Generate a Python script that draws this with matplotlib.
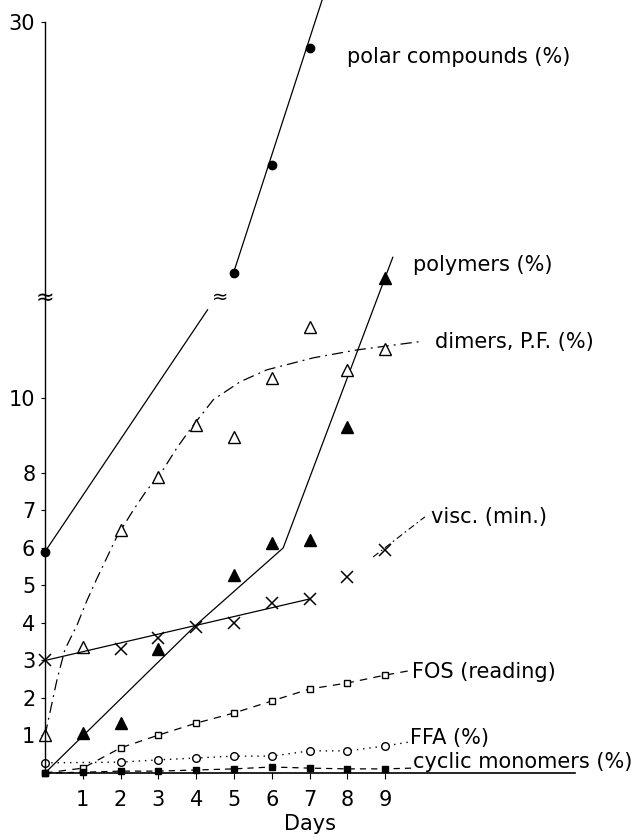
import matplotlib
matplotlib.use("Agg")
import matplotlib.pyplot as plt

plt.rcParams['font.family'] = ['DejaVu Sans']

# data (day of frying)
days = [0, 1, 2, 3, 4, 5, 6, 7, 8, 9]

# polar compounds (%), broken axis: day 0 below the break, days 5-7 above it
polar_lo_days = [0]
polar_lo = [5.9]
polar_hi_days = [5, 6, 7]
polar_hi = [23.3, 26.2, 29.3]
polar_fit_lo_days = [0, 4.3]
polar_fit_lo = [5.9, 12.35]
polar_fit_hi_days = [4.95, 7.35]
polar_fit_hi = [23.2, 30.65]

# polymers (%)
poly_days = [1, 2, 3, 5, 6, 7, 8, 9]
poly = [1.07, 1.33, 3.3, 5.28, 6.13, 6.21, 9.23, 13.2]
poly_fit_days = [0, 4, 6.3, 9.2]
poly_fit = [0, 3.95, 6.0, 13.75]

# dimers, P.F. (%)
dimer = [1.0, 3.36, 6.48, 7.9, 9.28, 8.96, 10.53, 11.89, 10.75, 11.31]
dimer_curve_days = [0, 0.32, 0.53, 0.85, 1.11, 1.38, 1.64, 1.9, 2.33, 2.7, 3.04,
                    3.49, 3.89, 4.45, 5.16, 5.87, 7.1, 8.25, 9.9]
dimer_curve = [1.0, 2.5, 3.3, 3.95, 4.6, 5.2, 5.75, 6.3, 7.0, 7.55, 7.95,
               8.67, 9.23, 9.95, 10.43, 10.75, 11.07, 11.28, 11.5]

# viscosity (min.)
visc = [3.0, None, 3.3, 3.6, 3.9, 4.0, 4.53, 4.64, 5.23, 5.95]
visc_fit_days = [0, 7]
visc_fit = [3.0, 4.64]
visc_lead_days = [8.68, 10.05]
visc_lead = [5.76, 6.83]

# FOS (reading)
fos = [0, 0.13, 0.67, 1.01, 1.33, 1.6, 1.92, 2.24, 2.4, 2.61]
# FFA (%)
ffa_days = [0, 2, 3, 4, 5, 6, 7, 8, 9]
ffa = [0.27, 0.29, 0.35, 0.4, 0.45, 0.45, 0.59, 0.59, 0.72]
# cyclic monomers (%)
cyc = [0, 0.02, 0.05, 0.05, 0.08, 0.11, 0.16, 0.13, 0.11, 0.11]

fig = plt.figure(figsize=(6.39, 8.4), dpi=100)
ax = fig.add_axes([45 / 639, 67 / 840, 530 / 639, 773 / 840])
axt = fig.add_axes([45 / 639, 543 / 840, 530 / 639, 297 / 840], sharex=ax)
axt.patch.set_alpha(0)

ax.set_xlim(0, 14.02)
ax.set_ylim(0, 20.61)
axt.set_ylim(22.67, 30.59)

k = dict(color='black', clip_on=False)

# polar compounds
ax.plot(polar_fit_lo_days, polar_fit_lo, lw=0.9, **k)
ax.plot(polar_lo_days, polar_lo, 'o', ms=6, **k)
axt.plot(polar_fit_hi_days, polar_fit_hi, lw=0.9, **k)
axt.plot(polar_hi_days, polar_hi, 'o', ms=6, **k)
ax.text(4.62, 12.68, '≈', fontsize=14, ha='center', va='center')

# polymers
ax.plot(poly_fit_days, poly_fit, lw=0.9, **k)
ax.plot(poly_days, poly, '^', ms=9, **k)

# dimers
ax.plot(dimer_curve_days, dimer_curve, lw=0.9, ls=(0, (9, 4, 1.5, 4)), **k)
ax.plot(days, dimer, '^', ms=9, mfc='white', mew=1.0, **k)

# viscosity
ax.plot(visc_fit_days, visc_fit, lw=0.9, **k)
ax.plot(visc_lead_days, visc_lead, lw=0.8, ls=(0, (6, 3, 1.5, 3)), **k)
vd = [d for d, v in zip(days, visc) if v is not None]
vv = [v for v in visc if v is not None]
ax.plot(vd, vv, 'x', ms=8, mew=1.1, **k)

# FOS
ax.plot(days + [9.6], fos + [2.72], lw=0.9, ls=(0, (6, 5)), **k)
ax.plot(days, fos, 's', ms=5, mfc='white', **k)

# FFA
ax.plot(ffa_days + [9.6], ffa + [0.82], lw=1.0, ls=(0, (1, 3.5)), **k)
ax.plot(ffa_days, ffa, 'o', ms=5.5, mfc='white', **k)

# cyclic monomers
ax.plot(days + [9.7], cyc + [0.13], lw=0.9, ls=(0, (5, 4)), **k)
ax.plot(days, cyc, 's', ms=5, **k)

# labels of the curves
fs = 15
ax.text(7.99, 19.09, 'polar compounds (%)', fontsize=fs, va='center')
ax.text(9.73, 13.55, 'polymers (%)', fontsize=fs, va='center')
ax.text(10.32, 11.49, 'dimers, P.F. (%)', fontsize=fs, va='center')
ax.text(10.21, 6.83, 'visc. (min.)', fontsize=fs, va='center')
ax.text(9.71, 2.69, 'FOS (reading)', fontsize=fs, va='center')
ax.text(9.65, 0.93, 'FFA (%)', fontsize=fs, va='center')
ax.text(9.73, 0.29, 'cyclic monomers (%)', fontsize=fs, va='center')

# axes styling
for s in ['top', 'right']:
    ax.spines[s].set_visible(False)
    axt.spines[s].set_visible(False)
axt.spines['bottom'].set_visible(False)
ax.spines['left'].set_bounds(0, 12.7)
axt.spines['left'].set_bounds(22.67, 30)
ax.spines['left'].set_linewidth(1.0)
axt.spines['left'].set_linewidth(1.0)
ax.spines['bottom'].set_linewidth(1.2)

ax.set_xticks(days[1:])
ax.set_yticks([1, 2, 3, 4, 5, 6, 7, 8, 10])
axt.set_yticks([30])
ax.tick_params(axis='x', direction='out', length=4, pad=8, labelsize=15)
ax.tick_params(axis='y', direction='out', length=3, pad=4, labelsize=15)
axt.tick_params(axis='y', direction='out', length=3, pad=4, labelsize=15)
axt.tick_params(axis='x', bottom=False, labelbottom=False)
ax.text(0, 12.68, '≈', fontsize=16, ha='center', va='center')

ax.set_xlabel('Days', fontsize=15, labelpad=3)

fig.savefig('out.png', dpi=100)
